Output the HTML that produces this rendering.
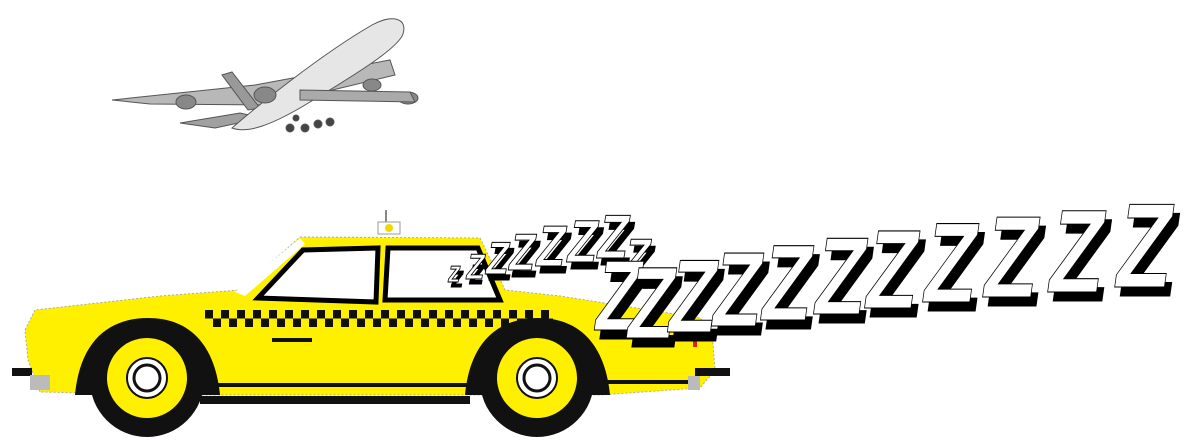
<!DOCTYPE html>
<html><head><meta charset="utf-8"><style>
html,body{margin:0;padding:0;background:#fff;width:1200px;height:445px;overflow:hidden}
svg{display:block}
.z{font-family:"Liberation Sans",sans-serif;font-weight:bold}
</style></head><body>
<svg width="1200" height="445" viewBox="0 0 1200 445" xmlns="http://www.w3.org/2000/svg">
<!-- Airplane -->
<g stroke="#555" stroke-width="1">
  <polygon points="112,100 255,85 390,60 395,75 270,105 150,104" fill="#b8b8b8"/>
  <polygon points="180,123 240,113 262,118 215,128" fill="#a0a0a0"/>
  <polygon points="222,75 232,72 260,108 248,110" fill="#999"/>
  <path d="M232,128 C255,108 320,55 372,25 C392,14 408,18 403,34 C398,48 360,72 300,108 C272,124 248,134 232,128 Z" fill="#e6e6e6"/>
  <ellipse cx="186" cy="102" rx="10" ry="7" fill="#888"/>
  <ellipse cx="265" cy="95" rx="11" ry="8" fill="#888"/>
  <ellipse cx="372" cy="85" rx="9" ry="6" fill="#888"/>
  <ellipse cx="408" cy="98" rx="10" ry="6" fill="#888"/>
  <polygon points="300,90 410,92 415,102 300,100" fill="#aaa"/>
  <g fill="#444"><circle cx="290" cy="128" r="4"/><circle cx="305" cy="128" r="4"/><circle cx="318" cy="124" r="4"/><circle cx="330" cy="122" r="4"/><circle cx="296" cy="118" r="3"/></g>
</g>
<!-- Taxi -->
<g>
  <rect x="385" y="210" width="2" height="15" fill="#888"/>
  <rect x="378" y="222" width="22" height="12" fill="#fff" stroke="#999"/>
  <circle cx="389" cy="228" r="4" fill="#f0d800"/>
  <path d="M300,237 L480,238 L505,290 L560,296 L700,318 L712,330 L715,370 L700,388 L600,395 L180,395 L40,392 L28,360 L25,330 L35,310 L160,296 L240,290 Z" fill="#fff000" stroke="#aaa" stroke-width="1" stroke-dasharray="2 2"/>
  <polygon points="258,298 303,250 378,248 376,302" fill="#fff" stroke="#000" stroke-width="5"/>
  <polygon points="388,248 478,248 500,300 385,300" fill="#fff" stroke="#000" stroke-width="5"/>
  <polygon points="235,292 300,238 305,244 245,296" fill="#fff"/>
  <rect x="205" y="310" width="348" height="17" fill="#fff000"/>
  <g fill="#111">
    <path d="M205,310h8v8.5h-8zM221,310h8v8.5h-8zM237,310h8v8.5h-8zM253,310h8v8.5h-8zM269,310h8v8.5h-8zM285,310h8v8.5h-8zM301,310h8v8.5h-8zM317,310h8v8.5h-8zM333,310h8v8.5h-8zM349,310h8v8.5h-8zM365,310h8v8.5h-8zM381,310h8v8.5h-8zM397,310h8v8.5h-8zM413,310h8v8.5h-8zM429,310h8v8.5h-8zM445,310h8v8.5h-8zM461,310h8v8.5h-8zM477,310h8v8.5h-8zM493,310h8v8.5h-8zM509,310h8v8.5h-8zM525,310h8v8.5h-8zM541,310h8v8.5h-8z"/>
    <path d="M213,318.5h8v8.5h-8zM229,318.5h8v8.5h-8zM245,318.5h8v8.5h-8zM261,318.5h8v8.5h-8zM277,318.5h8v8.5h-8zM293,318.5h8v8.5h-8zM309,318.5h8v8.5h-8zM325,318.5h8v8.5h-8zM341,318.5h8v8.5h-8zM357,318.5h8v8.5h-8zM373,318.5h8v8.5h-8zM389,318.5h8v8.5h-8zM405,318.5h8v8.5h-8zM421,318.5h8v8.5h-8zM437,318.5h8v8.5h-8zM453,318.5h8v8.5h-8zM469,318.5h8v8.5h-8zM485,318.5h8v8.5h-8zM501,318.5h8v8.5h-8zM517,318.5h8v8.5h-8zM533,318.5h8v8.5h-8zM549,318.5h4v8.5h-4z"/>
  </g>
  <rect x="272" y="338" width="40" height="4" fill="#111"/>
  <rect x="195" y="383" width="280" height="4" fill="#111"/>
  <rect x="200" y="396" width="270" height="8" fill="#111"/>
  <rect x="580" y="380" width="110" height="4" fill="#111"/>
  <rect x="12" y="368" width="20" height="8" fill="#111"/>
  <rect x="30" y="375" width="20" height="15" fill="#bbb"/>
  <rect x="695" y="368" width="35" height="8" fill="#111"/>
  <rect x="688" y="376" width="12" height="14" fill="#bbb"/>
  <rect x="693" y="332" width="4" height="15" fill="#e02020"/>
  <path d="M75,395 C80,340 110,318 148,318 C190,318 215,345 220,395 Z" fill="#111"/>
  <circle cx="147" cy="380" r="57" fill="#111"/>
  <circle cx="147" cy="378" r="40" fill="#fff000"/>
  <circle cx="147" cy="378" r="20" fill="#fff" stroke="#111" stroke-width="2"/>
  <circle cx="147" cy="378" r="13" fill="#fff" stroke="#111" stroke-width="3"/>
  <path d="M465,395 C470,340 500,318 538,318 C580,318 605,345 610,395 Z" fill="#111"/>
  <circle cx="537" cy="380" r="57" fill="#111"/>
  <circle cx="537" cy="378" r="40" fill="#fff000"/>
  <circle cx="537" cy="378" r="20" fill="#fff" stroke="#111" stroke-width="2"/>
  <circle cx="537" cy="378" r="13" fill="#fff" stroke="#111" stroke-width="3"/>
</g>
<!-- Zs -->
<g class="z" stroke="#000" stroke-width="1">
  <g transform="translate(447,282) skewX(-10) scale(0.8,1)" font-size="30"><text x="5" y="5" fill="#000">z</text><text fill="#fff">z</text></g>
  <g transform="translate(465,279) skewX(-10) scale(0.8,1)" font-size="36"><text x="5" y="5" fill="#000">z</text><text fill="#fff">Z</text></g>
  <g transform="translate(484,274) skewX(-10) scale(0.8,1)" font-size="46"><text x="6" y="6" fill="#000">Z</text><text fill="#fff">Z</text></g>
  <g transform="translate(507,270) skewX(-10) scale(0.8,1)" font-size="52"><text x="6" y="7" fill="#000">Z</text><text fill="#fff">Z</text></g>
  <g transform="translate(534,266) skewX(-10) scale(0.8,1)" font-size="58"><text x="7" y="7" fill="#000">Z</text><text fill="#fff">Z</text></g>
  <g transform="translate(565,262) skewX(-10) scale(0.8,1)" font-size="60"><text x="7" y="7" fill="#000">Z</text><text fill="#fff">Z</text></g>
  <g transform="translate(595,258) skewX(-10) scale(0.8,1)" font-size="62"><text x="7" y="7" fill="#000">Z</text><text fill="#fff">Z</text></g>
  <g transform="translate(622,275) skewX(-10) scale(0.8,1)" font-size="52"><text x="6" y="7" fill="#000">Z</text><text fill="#fff">Z</text></g>

  <g transform="translate(592,330) skewX(-8) scale(0.75,1)" font-size="100"><text x="9" y="9" fill="#000">Z</text><text fill="#fff">Z</text></g>
  <g transform="translate(624,338) skewX(-8) scale(0.75,1)" font-size="102"><text x="9" y="9" fill="#000">Z</text><text fill="#fff">Z</text></g>
  <g transform="translate(665,332) skewX(-8) scale(0.75,1)" font-size="104"><text x="9" y="9" fill="#000">Z</text><text fill="#fff">Z</text></g>
  <g transform="translate(709,326) skewX(-8) scale(0.75,1)" font-size="106"><text x="9" y="9" fill="#000">Z</text><text fill="#fff">Z</text></g>
  <g transform="translate(758,320) skewX(-8) scale(0.75,1)" font-size="108"><text x="9" y="9" fill="#000">Z</text><text fill="#fff">Z</text></g>
  <g transform="translate(811,314) skewX(-8) scale(0.75,1)" font-size="110"><text x="9" y="9" fill="#000">Z</text><text fill="#fff">Z</text></g>
  <g transform="translate(862,308) skewX(-8) scale(0.75,1)" font-size="112"><text x="9" y="9" fill="#000">Z</text><text fill="#fff">Z</text></g>
  <g transform="translate(920,302) skewX(-8) scale(0.75,1)" font-size="114"><text x="9" y="9" fill="#000">Z</text><text fill="#fff">Z</text></g>
  <g transform="translate(980,297) skewX(-8) scale(0.75,1)" font-size="116"><text x="9" y="9" fill="#000">Z</text><text fill="#fff">Z</text></g>
  <g transform="translate(1045,292) skewX(-8) scale(0.75,1)" font-size="118"><text x="9" y="9" fill="#000">Z</text><text fill="#fff">Z</text></g>
  <g transform="translate(1112,287) skewX(-8) scale(0.75,1)" font-size="120"><text x="9" y="9" fill="#000">Z</text><text fill="#fff">Z</text></g>
</g>
</svg>
</body></html>
